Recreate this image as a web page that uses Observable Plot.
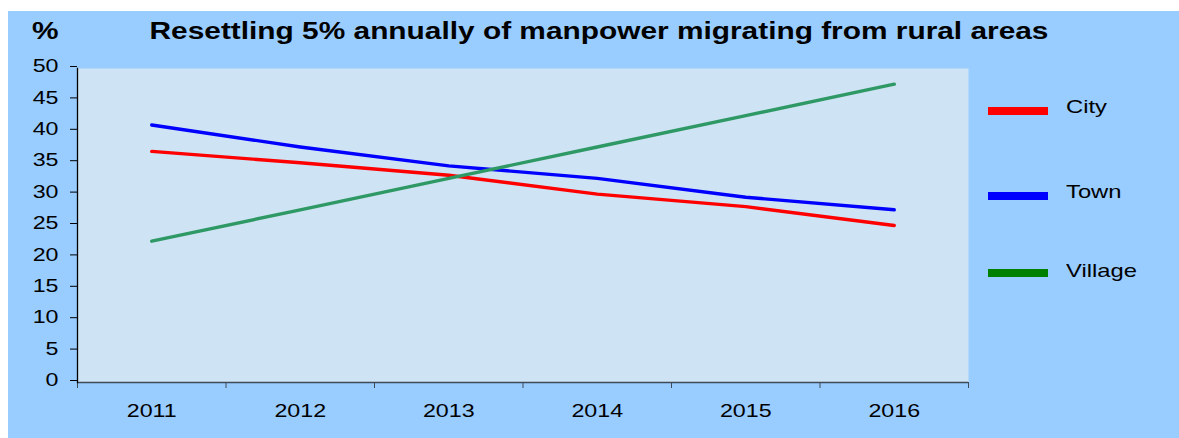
<!DOCTYPE html>
<html>
<head>
<meta charset="utf-8">
<script src="https://cdn.jsdelivr.net/npm/d3@7"></script>
<script src="https://cdn.jsdelivr.net/npm/@observablehq/plot@0.6"></script>
<style>
  html, body { margin: 0; padding: 0; background: #ffffff; }
  #wrap { position: absolute; left: 8px; top: 11px; width: 1171px; height: 427px; background: #99ccff; overflow: hidden; font-family: "Liberation Sans", Arial, sans-serif; }
  #title { position: relative; height: 40px; }
  #title .t { position: absolute; top: 8px; font-weight: bold; font-size: 23.7px; line-height: 24px; white-space: nowrap; color: #000; }
  #title .main { left: 591px; transform: translateX(-50%) scaleX(1.26); }
  #title .pct { left: 24px; transform-origin: left center; transform: scaleX(1.26); }
  #legend { position: absolute; left: 0; top: 0; }
  .sw { position: absolute; width: 60px; height: 8px; left: 980px; }
  .lab { position: absolute; left: 1058px; font-size: 19px; line-height: 19px; white-space: nowrap; transform-origin: left center; transform: scaleX(1.25); color: #000; }
  svg { display: block; }
</style>
</head>
<body>
<div id="wrap">
  <div id="title"><span class="t pct">%</span><span class="t main">Resettling 5% annually of manpower migrating from rural areas</span></div>
  <div id="chart"></div>
  <div id="legend"></div>
</div>
<script>
// ---- data ----
const years = [2011, 2012, 2013, 2014, 2015, 2016];
const city = [36.8, 35.0, 33.0, 30.0, 28.0, 25.0];
const town = [41.0, 37.5, 34.5, 32.5, 29.5, 27.5];
const village = [22.5, 27.5, 32.5, 37.5, 42.5, 47.5];
const seriesNames = ["City", "Town", "Village"];
const lineColors = ["#ff0000", "#0000ff", "#2e9964"];
const legendColors = ["#ff0000", "#0000ff", "#008000"];
const yTicks = [0, 5, 10, 15, 20, 25, 30, 35, 40, 45, 50];

const seriesValues = [city, town, village];
const rows = [];
seriesNames.forEach((s, k) => years.forEach((yr, i) => rows.push({series: s, year: yr, value: seriesValues[k][i]})));
const bounds = years.map(y => y - 0.5).concat([years[years.length - 1] + 0.5]);

const defsMark = () => {
  const defs = d3.create("svg:defs");
  const p = defs.append("pattern").attr("id", "dots").attr("width", 2).attr("height", 2).attr("patternUnits", "userSpaceOnUse");
  p.append("rect").attr("width", 2).attr("height", 2).attr("fill", "#d8eaf7");
  p.append("rect").attr("width", 1).attr("height", 1).attr("fill", "#b0cfe9");
  return defs.node();
};

const plot = Plot.plot({
  width: 1171,
  height: 387,
  marginLeft: 69,
  marginRight: 211,
  marginTop: 17,
  marginBottom: 56,
  style: {background: "transparent", fontFamily: "'Liberation Sans', Arial, sans-serif", fontSize: "18px", color: "#000"},
  x: {type: "linear", domain: [bounds[0], bounds[bounds.length - 1]]},
  y: {domain: [0, 50]},
  color: {domain: seriesNames, range: lineColors},
  marks: [
    defsMark,
    Plot.frame({fill: "url(#dots)", stroke: "none"}),
    Plot.line(rows, {x: "year", y: "value", z: "series", stroke: "series", strokeWidth: 3.4, strokeLinecap: "round"}),
    Plot.ruleY([0], {stroke: "#3e4a57", strokeWidth: 1.4}),
    Plot.axisX(bounds, {tickSize: 6, tickFormat: () => "", stroke: "#3e4a57", label: null}),
    Plot.axisX(years, {tickSize: 0, tickPadding: 22, tickFormat: d => String(d), label: null, fill: "#000"}),
    Plot.axisY(yTicks, {tickSize: 7, tickPadding: 12, label: null, stroke: "#000", fill: "#000", dy: -2}),
    Plot.frame({anchor: "left", stroke: "#000", strokeWidth: 1.3})
  ]
});
document.getElementById("chart").appendChild(plot);

// stretch tick labels horizontally like the reference
plot.querySelectorAll("text").forEach(t => {
  const len = t.getComputedTextLength();
  if (len > 0) {
    t.setAttribute("textLength", (len * 1.29).toFixed(1));
    t.setAttribute("lengthAdjust", "spacingAndGlyphs");
  }
});

// legend
const swY = [99.7, 185, 262];
const labTop = [86, 171, 250];
const legend = document.getElementById("legend");
seriesNames.forEach((s, k) => {
  const sw = document.createElement("div");
  sw.className = "sw";
  sw.style.top = (swY[k] - 4) + "px";
  sw.style.background = legendColors[k];
  legend.appendChild(sw);
  const lab = document.createElement("div");
  lab.className = "lab";
  lab.style.top = labTop[k] + "px";
  lab.textContent = s;
  legend.appendChild(lab);
});
</script>
</body>
</html>
